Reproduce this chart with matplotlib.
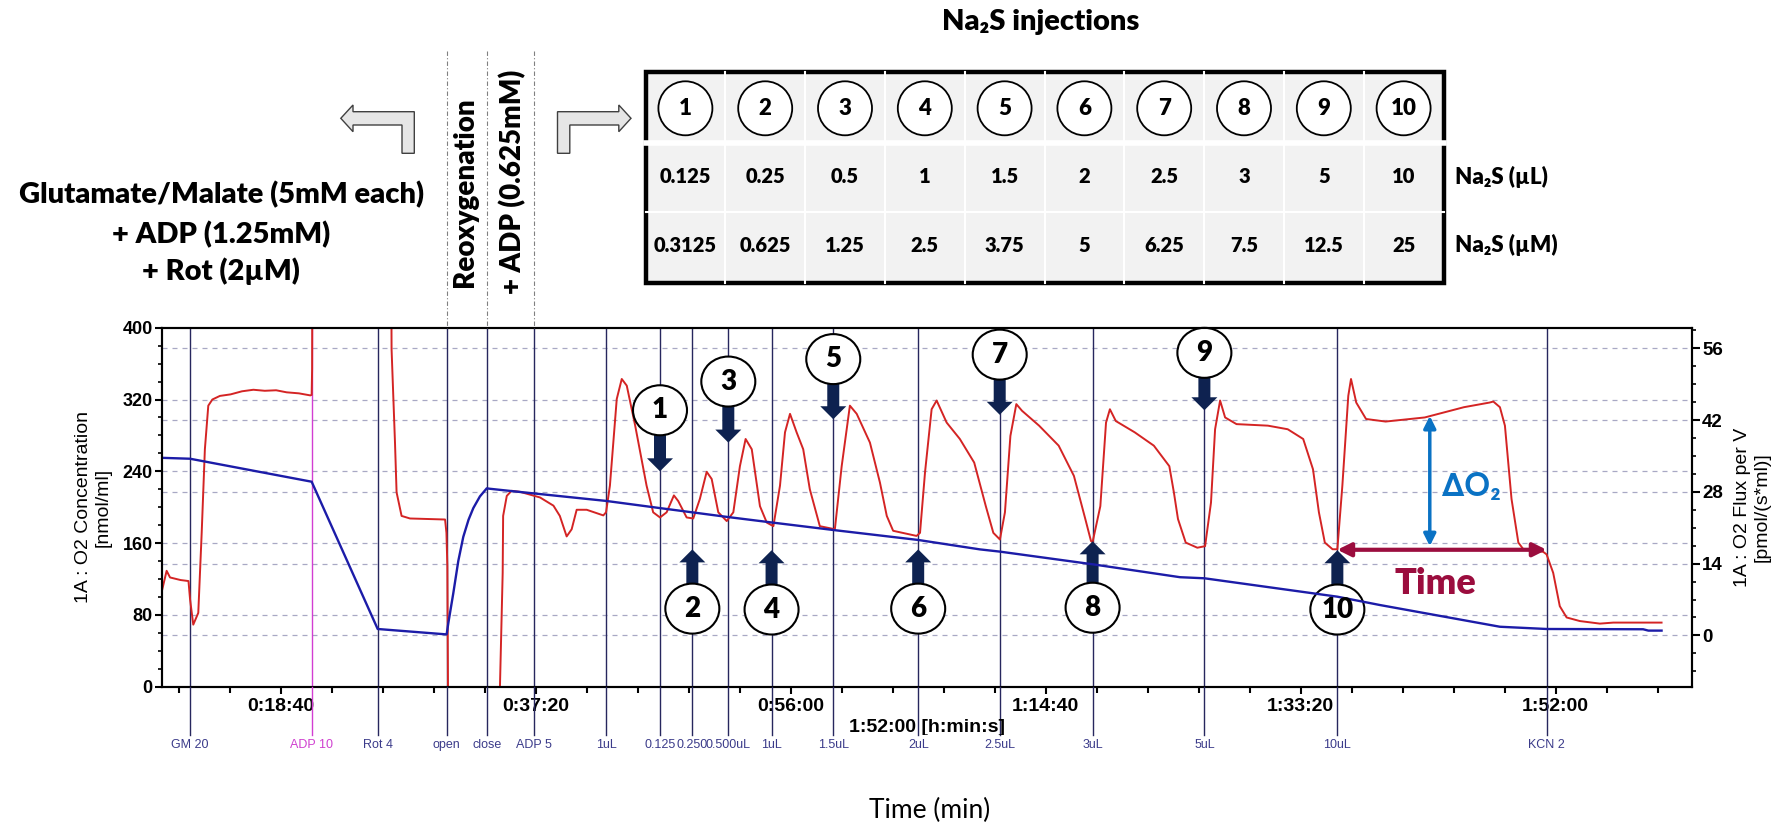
import matplotlib
matplotlib.use('Agg')
import matplotlib.pyplot as plt
from matplotlib import transforms
from matplotlib.lines import Line2D
from matplotlib.patches import Ellipse, Polygon, Rectangle
from matplotlib.ticker import MultipleLocator, FuncFormatter

# O2 concentration [nmol/ml], blue trace, left axis (time in s)
conc_t = [600, 722, 1256, 1546, 1842, 1849, 1857, 1878, 1900, 1922, 1945, 1966,
          1995, 2025, 2040, 2170, 2549, 2786, 3086, 3276, 3547, 3920, 4191, 4279,
          4686, 5070, 5177, 5761, 5948, 6475, 6680, 7104, 7127, 7185]
conc_v = [255, 254, 228.4, 64.3, 58.4, 58.5, 72, 104, 140, 167, 186, 199,
          212, 221, 220.5, 217, 207, 199, 189, 183, 174.6, 163.5, 153, 150.5,
          136.4, 122, 120.8, 100.3, 91, 66.8, 64.3, 64, 62.5, 62.5]

# O2 flux per V [pmol/(s*ml)], red trace, right axis
flux_t = [600, 619, 634, 680, 715, 722, 736, 758, 773, 787, 802, 820, 853, 900,
          950, 1000, 1050, 1100, 1146, 1200, 1250, 1256, 1258, 1260, 1604, 1607,
          1622, 1629, 1651, 1688, 1760, 1842, 1848, 1852, 1856, 2080, 2083, 2095,
          2097, 2113, 2134, 2171, 2259, 2318, 2346, 2376, 2398, 2420, 2464, 2537,
          2549, 2566, 2596, 2618, 2640, 2677, 2727, 2756, 2786, 2815, 2847, 2866,
          2903, 2932, 2961, 2991, 3013, 3042, 3079, 3108, 3137, 3162, 3189, 3225,
          3255, 3284, 3313, 3335, 3357, 3386, 3415, 3444, 3488, 3554, 3584, 3620,
          3650, 3708, 3752, 3782, 3810, 3913, 3928, 3950, 3979, 4001, 4045, 4103,
          4166, 4217, 4250, 4279, 4301, 4325, 4351, 4376, 4451, 4537, 4604, 4654,
          4679, 4686, 4720, 4745, 4762, 4788, 4871, 4955, 5023, 5043, 5061, 5095,
          5146, 5180, 5206, 5224, 5246, 5268, 5318, 5456, 5543, 5611, 5654, 5680,
          5706, 5740, 5761, 5783, 5809, 5821, 5844, 5887, 5973, 6145, 6317, 6429,
          6446, 6475, 6497, 6526, 6556, 6578, 6665, 6680, 6709, 6738, 6768, 6826,
          6914, 6973, 7185]
flux_v = [9.0, 12.6, 11.3, 10.8, 10.6, 7.0, 2.1, 4.4, 20.0, 36.3, 44.8, 46.0, 46.7, 47.0,
          47.6, 47.9, 47.7, 47.8, 47.4, 47.2, 46.8, 46.9, 52, 90, 90, 55.8,
          37.6, 27.9, 23.3, 22.8, 22.7, 22.6, 20.0, 13.5, -20, -20, -10, 12.2,
          23.3, 27.2, 28.2, 28.0, 26.9, 25.3, 23.3, 19.3, 20.7, 24.5, 24.5, 23.4,
          24.0, 29.2, 46.1, 50.0, 48.7, 40.9, 29.2, 24.0, 23.0, 24.0, 27.3, 26.2,
          23.0, 22.8, 26.6, 31.9, 30.5, 24.0, 22.3, 24.0, 33.0, 38.3, 36.3, 25.2,
          22.0, 21.3, 29.2, 39.6, 43.2, 39.6, 36.3, 28.5, 21.3, 20.7, 33.0, 44.8,
          43.2, 37.6, 29.8, 23.3, 20.4, 19.4, 20.0, 31.8, 44.1, 45.8, 41.5, 38.3,
          33.7, 25.2, 20.0, 18.7, 24.0, 38.9, 45.1, 43.8, 40.9, 37.0, 31.1, 22.7,
          18.4, 18.2, 25.2, 41.5, 44.1, 41.8, 39.6, 37.0, 33.0, 27.9, 22.7, 18.1,
          17.1, 17.4, 25.9, 40.2, 45.8, 42.5, 41.2, 40.9, 40.2, 38.3, 32.4, 24.0,
          18.1, 16.8, 16.8, 29.2, 46.7, 50.0, 45.4, 42.2, 41.7, 42.5, 44.5, 45.4,
          45.6, 44.5, 40.9, 26.6, 18.1, 16.8, 16.3, 15.8, 12.2, 5.7, 3.5, 2.8,
          2.3, 2.5, 2.5]

# DatLab event marks
event_t = [722, 1256, 1546, 1849, 2025, 2234, 2549, 2786, 2928, 3086, 3276,
           3547, 3920, 4278, 4686, 5177, 5761, 6681]
event_lbl = ['GM 20', 'ADP 10', 'Rot 4', 'open', 'close', 'ADP 5', '1uL', '0.125',
             '0.250', '0.500uL', '1uL', '1.5uL', '2uL', '2.5uL', '3uL', '5uL',
             '10uL', 'KCN 2']

# Na2S injections
inj_num = ['1', '2', '3', '4', '5', '6', '7', '8', '9', '10']
inj_t = event_t[7:17]
na2s_ul = ['0.125', '0.25', '0.5', '1', '1.5', '2', '2.5', '3', '5', '10']
na2s_um = ['0.3125', '0.625', '1.25', '2.5', '3.75', '5', '6.25', '7.5', '12.5', '25']

W, H = 1785, 826


def fx(px):
    return px / W


def fy(py):
    return 1 - py / H


plt.rcParams['font.family'] = ['Liberation Sans', 'DejaVu Sans']
plt.rcParams['font.weight'] = 'bold'
CAL = ['Lato', 'DejaVu Sans']
HV = 800
NAVY = '#27275e'

fig = plt.figure(figsize=(W / 100, H / 100), dpi=100)
ax = fig.add_axes([fx(162.3), fy(686.7), (1692.3 - 162.3) / W, (686.7 - 327.7) / H])
ax2 = ax.twinx()
ax.set_zorder(ax2.get_zorder() + 1)
ax.patch.set_visible(False)

ax.set_xlim(600, 7320)
ax.set_ylim(0, 400)
ax2.set_ylim(-10, 60)

# grid (both axes) under the traces
for v in [80, 160, 240, 320]:
    ax2.axhline(v * 70 / 400 - 10, color='#a8a8c4', lw=0.9, ls=(0, (4, 4)), zorder=0)
for v in [0, 14, 28, 42, 56]:
    ax2.axhline(v, color='#a8a8c4', lw=0.9, ls=(0, (4, 4)), zorder=0)

trans = transforms.blended_transform_factory(ax.transData, fig.transFigure)
for i, (t, lbl) in enumerate(zip(event_t, event_lbl)):
    c = '#d23ed2' if lbl == 'ADP 10' else NAVY
    ax2.axvline(t, color=c, lw=1.0, zorder=1)
    fig.add_artist(Line2D([t, t], [fy(686.7), fy(735)], transform=trans, color=c, lw=1.0))
    fig.text(t, fy(745), lbl, transform=trans, ha='center', va='center', fontsize=9,
             fontweight='normal', color='#d040d0' if lbl == 'ADP 10' else '#3b3b8a')

# reoxygenation bracket lines
for t in event_t[3:6]:
    fig.add_artist(Line2D([t, t], [fy(51), fy(327.7)], transform=trans, color='#808080',
                          lw=0.8, ls=(0, (4, 2, 1, 2))))

ax2.plot(flux_t, flux_v, color='#d42424', lw=1.4, zorder=2)
ax.plot(conc_t, conc_v, color='#1c1ca8', lw=1.7, zorder=2)

# ticks and labels
ax.xaxis.set_major_locator(MultipleLocator(1120))
ax.xaxis.set_minor_locator(MultipleLocator(224))
ax.xaxis.set_major_formatter(FuncFormatter(
    lambda t, p: f'{int(t) // 3600}:{int(t) % 3600 // 60:02d}:{int(t) % 60:02d}'))
ax.yaxis.set_major_locator(MultipleLocator(80))
ax.yaxis.set_minor_locator(MultipleLocator(20))
ax2.yaxis.set_major_locator(MultipleLocator(14))
ax2.yaxis.set_minor_locator(MultipleLocator(3.5))
ax.tick_params(axis='x', which='major', length=5, width=1.5, labelsize=14, pad=3)
ax.tick_params(axis='x', which='minor', length=4, width=1.5)
ax.tick_params(axis='y', which='major', length=5, width=1.5, labelsize=13, pad=2)
ax.tick_params(axis='y', which='minor', length=3, width=1.2)
ax2.tick_params(axis='y', which='major', length=6, width=1.5, labelsize=13.5, pad=1)
ax2.tick_params(axis='y', which='minor', length=3, width=1.2)
for a in (ax, ax2):
    for s in a.spines.values():
        s.set_linewidth(1.5)

fig.text(fx(93.5), fy(507), '1A : O2 Concentration\n[nmol/ml]', rotation=90,
         ha='center', va='center', fontsize=14, fontweight='normal')
fig.text(fx(1752.5), fy(507), '1A : O2 Flux per V\n[pmol/(s*ml)]', rotation=90,
         ha='center', va='center', fontsize=14, fontweight='normal')
hl = fig.text(fx(926.7), fy(728), '1:52:00 [h:min:s]', ha='center', va='center', fontsize=14)
hl.set_clip_box(transforms.TransformedBbox(
    transforms.Bbox([[0, fy(735)], [1, 1]]), fig.transFigure))
hl.set_clip_on(True)
fig.text(fx(930), fy(810), 'Time (min)', ha='center', va='center', fontsize=19,
         fontweight='normal', family=CAL)

# numbered injection markers
circ_y = [308, 87, 340, 86, 365, 87, 370, 88, 372, 86]
tip_y = [240, 153, 272, 152, 298, 153, 303, 162, 308, 152]


def to_px(t, y):
    dx, dy = ax.transData.transform((t, y))
    return dx, H - dy


for num, t, cy, ty in zip(inj_num, inj_t, circ_y, tip_y):
    x, y0 = to_px(t, cy)
    _, y1 = to_px(t, ty)
    d = 1 if y1 > y0 else -1
    hb = y1 - d * 13
    pts = [(x - 6, y0), (x + 6, y0), (x + 6, hb), (x + 13, hb), (x, y1), (x - 13, hb), (x - 6, hb)]
    fig.add_artist(Polygon([(fx(a), fy(b)) for a, b in pts], closed=True,
                           transform=fig.transFigure, fc='#0e2250', ec='none'))
    fig.add_artist(Ellipse((fx(x), fy(y0)), 54 / W, 50 / H, transform=fig.transFigure,
                           fc='white', ec='black', lw=1.5))
    fig.text(fx(x), fy(y0), num, ha='center', va='center', fontsize=20, family=CAL,
             fontweight=HV)

# delta O2 and time arrows
ax2.annotate('', xy=(6167, 42.8), xytext=(6167, 17.4),
             arrowprops=dict(arrowstyle='<|-|>', color='#0a72c4', lw=2.5,
                             mutation_scale=18, shrinkA=0, shrinkB=0))
ax2.annotate('', xy=(5761, 16.7), xytext=(6680, 16.7),
             arrowprops=dict(arrowstyle='<|-|>', color='#9b0d3e', lw=3,
                             mutation_scale=20, shrinkA=0, shrinkB=0))
fig.text(fx(1442), fy(486.7), '\u2206O\u2082', ha='left', va='center', fontsize=23,
         color='#0a72c4', family=CAL)
fig.text(fx(1435), fy(583.3), 'Time', ha='center', va='center', fontsize=26,
         color='#9b0d3e', family=CAL, fontweight=HV)

# top annotations
for txt, yy in [('Glutamate/Malate (5mM each)', 195), ('+ ADP (1.25mM)', 235),
                ('+ Rot (2\u00b5M)', 271.7)]:
    fig.text(fx(221.4), fy(yy), txt, ha='center', va='center', fontsize=21, family=CAL,
             fontweight=HV)
fig.text(fx(465.3), fy(191.7), 'Reoxygenation', rotation=90, ha='center', va='center',
         fontsize=20, family=CAL, fontweight=HV)
fig.text(fx(512.2), fy(181.7), '+ ADP (0.625mM)', rotation=90, ha='center', va='center',
         fontsize=20, family=CAL, fontweight=HV)

left_arrow = [(340.8, 118.3), (353, 105), (353, 111.7), (414.3, 111.7), (414.3, 153.3),
              (402, 153.3), (402, 125), (353, 125), (353, 131.7)]
right_arrow = [(971.8 - a, b) for a, b in left_arrow]
for shape in (left_arrow, right_arrow):
    fig.add_artist(Polygon([(fx(a), fy(b)) for a, b in shape], closed=True,
                           transform=fig.transFigure, fc='#e6e6e6', ec='#404040', lw=1))

# Na2S table
fig.text(fx(1040.8), fy(21.7), 'Na\u2082S injections', ha='center', va='center',
         fontsize=21, family=CAL, fontweight=HV)
x0, x1, y0, y1 = 645.5, 1443.5, 72.3, 283.3
cw = (x1 - x0) / 10
fig.add_artist(Rectangle((fx(x0), fy(y1)), (x1 - x0) / W, (y1 - y0) / H,
                         transform=fig.transFigure, fc='#f2f2f2', ec='none'))
for i in range(1, 10):
    xx = x0 + cw * i
    fig.add_artist(Line2D([fx(xx), fx(xx)], [fy(y0), fy(y1)], transform=fig.transFigure,
                          color='white', lw=1.5))
fig.add_artist(Line2D([fx(x0), fx(x1)], [fy(142.5), fy(142.5)], transform=fig.transFigure,
                      color='white', lw=4))
fig.add_artist(Line2D([fx(x0), fx(x1)], [fy(212), fy(212)], transform=fig.transFigure,
                      color='white', lw=1.5))
fig.add_artist(Rectangle((fx(x0), fy(y1)), (x1 - x0) / W, (y1 - y0) / H,
                         transform=fig.transFigure, fc='none', ec='black', lw=3.2))
for i in range(10):
    cx = x0 + cw * (i + 0.5)
    fig.add_artist(Ellipse((fx(cx), fy(108.3)), 54 / W, 54 / H, transform=fig.transFigure,
                           fc='white', ec='black', lw=1.3))
    fig.text(fx(cx), fy(108.3), inj_num[i], ha='center', va='center', fontsize=16,
             family=CAL, fontweight=HV)
    fig.text(fx(cx), fy(176.7), na2s_ul[i], ha='center', va='center', fontsize=14.5,
             family=CAL, fontweight=HV)
    fig.text(fx(cx), fy(245), na2s_um[i], ha='center', va='center', fontsize=14.5,
             family=CAL, fontweight=HV)
fig.text(fx(1454.5), fy(176.7), 'Na\u2082S (\u00b5L)', ha='left', va='center', fontsize=16,
         family=CAL, fontweight=HV)
fig.text(fx(1454.5), fy(245), 'Na\u2082S (\u00b5M)', ha='left', va='center', fontsize=16,
         family=CAL, fontweight=HV)

fig.savefig('out.png', dpi=100, facecolor='white')
